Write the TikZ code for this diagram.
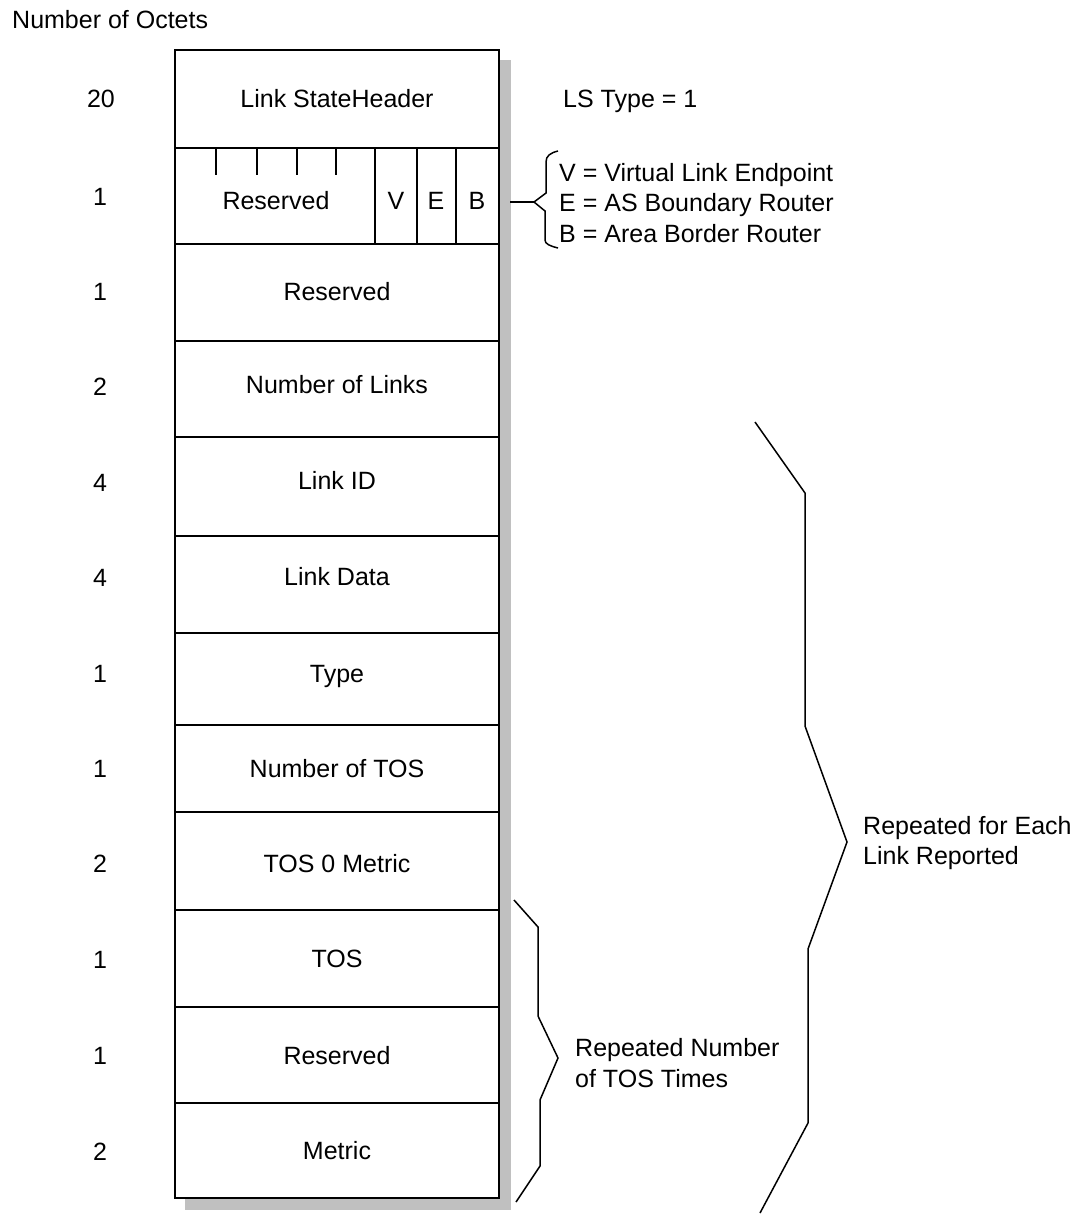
\documentclass[tikz,border=0pt]{standalone}
\usepackage{fontspec}
\setmainfont{Liberation Sans}
\definecolor{shadowgray}{HTML}{C0C0C0}
\begin{document}
\begin{tikzpicture}[x=1pt,y=-1pt,
  every node/.style={font=\fontsize{25}{30}\selectfont, inner sep=0pt},
  lbl/.style={text height=18pt, text depth=0pt},
  row/.style={draw, line width=1.6pt, minimum width=324pt, anchor=north west, inner sep=0pt, outer sep=0pt, fill=white},
  thin line/.style={line width=1.5pt},
  brace line/.style={line width=1.5pt, line join=miter}]
\useasboundingbox (0,0) rectangle (1076,1215);
% shadow
\fill[shadowgray] (185,60) rectangle (511,1210);
% rows
\node[row, minimum height=98pt] (r1) at (175,50) {};
\node[row, minimum height=96pt] (r2) at (r1.south west) {};
\node[row, minimum height=97pt] (r3) at (r2.south west) {};
\node[row, minimum height=96pt] (r4) at (r3.south west) {};
\node[row, minimum height=99pt] (r5) at (r4.south west) {};
\node[row, minimum height=97pt] (r6) at (r5.south west) {};
\node[row, minimum height=92pt] (r7) at (r6.south west) {};
\node[row, minimum height=87pt] (r8) at (r7.south west) {};
\node[row, minimum height=98pt] (r9) at (r8.south west) {};
\node[row, minimum height=97pt] (r10) at (r9.south west) {};
\node[row, minimum height=96pt] (r11) at (r10.south west) {};
\node[row, minimum height=95pt] (r12) at (r11.south west) {};
% row 2 details
\foreach \x in {216,257,297,336} \draw[thin line] (\x,148) -- (\x,175);
\foreach \x in {375,417,456} \draw[thin line] (\x,148) -- (\x,244);
% field texts
\node[lbl] (t1) at (337,98) {Link StateHeader};
\node[lbl] (t2) at (276,200) {Reserved};
\node[lbl] (tv) at (396,200) {V};
\node[lbl] (te) at (436,200) {E};
\node[lbl] (tb) at (477,200) {B};
\node[lbl] (t3) at (337,291) {Reserved};
\node[lbl] (t4) at (337,384) {Number of Links};
\node[lbl] (t5) at (337,480) {Link ID};
\node[lbl] (t6) at (337,576) {Link Data};
\node[lbl] (t7) at (337,673) {Type};
\node[lbl] (t8) at (337,768) {Number of TOS};
\node[lbl] (t9) at (337,863) {TOS 0 Metric};
\node[lbl] (t10) at (337,958) {TOS};
\node[lbl] (t11) at (337,1055) {Reserved};
\node[lbl] (t12) at (337,1150) {Metric};
% octet counts
\node[lbl, anchor=west] (hdr) at (12,20) {Number of Octets};
\node[lbl] (n1) at (101,98) {20};
\node[lbl] (n2) at (100,196) {1};
\node[lbl] (n3) at (100,291) {1};
\node[lbl] (n4) at (100,386) {2};
\node[lbl] (n5) at (100,482) {4};
\node[lbl] (n6) at (100,577) {4};
\node[lbl] (n7) at (100,673) {1};
\node[lbl] (n8) at (100,768) {1};
\node[lbl] (n9) at (100,863) {2};
\node[lbl] (n10) at (100,959) {1};
\node[lbl] (n11) at (100,1055) {1};
\node[lbl] (n12) at (100,1151) {2};
% right notes
\node[lbl, anchor=west] (ls) at (563,98) {LS Type = 1};
\node[lbl, anchor=west] (fv) at (559,172) {V = Virtual Link Endpoint};
\node[lbl, anchor=west] (fe) at (559,202) {E = AS Boundary Router};
\node[lbl, anchor=west] (fb) at (559,233) {B = Area Border Router};
% small brace for flags
\coordinate (flagtip) at (534,202);
\draw[thin line] (510,202) -- (flagtip);
\draw[brace line] (558,151) .. controls (550,153) and (546,156) .. (546,162) -- (546,193) -- (flagtip) -- (545,211) -- (545,240) .. controls (545,244) and (550,246) .. (558,248);
% TOS brace
\coordinate (tostip) at (558,1058);
\draw[brace line] (514,900) -- (538,927) -- (538,1016) -- (tostip) -- (540,1100) -- (540,1166) -- (516,1202);
\node[lbl, anchor=west] (rep1) at (575,1047) {Repeated Number};
\node[lbl, anchor=west] (rep2) at (575,1078) {of TOS Times};
% link brace
\coordinate (linktip) at (847,842);
\draw[brace line] (755,422) -- (805,493) -- (805,726) -- (linktip) -- (808,949) -- (808,1123) -- (760,1213);
\node[lbl, anchor=west] (each1) at (863,825) {Repeated for Each};
\node[lbl, anchor=west] (each2) at (863,855) {Link Reported};
\end{tikzpicture}
\end{document}
